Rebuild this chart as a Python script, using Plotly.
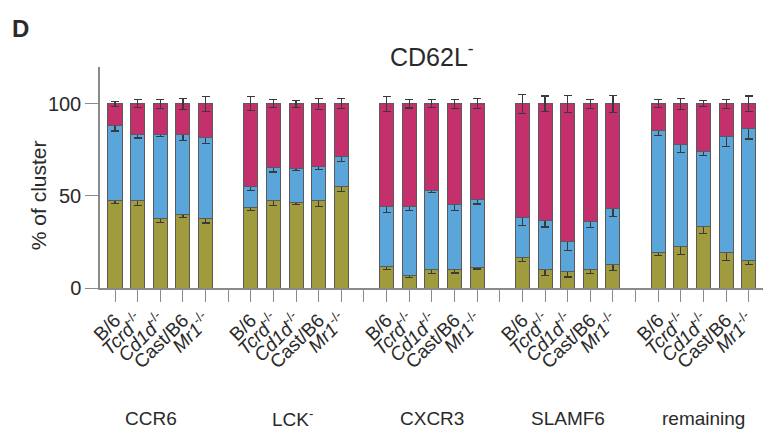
import plotly.graph_objects as go

groups = ["CCR6", "LCK<sup>-</sup>", "CXCR3", "SLAMF6", "remaining"]
strains = ["B/6", "<i>Tcrd</i><sup>-/-</sup>", "<i>Cd1d</i><sup>-/-</sup>", "Cast/B6", "<i>Mr1</i><sup>-/-</sup>"]

# segment percentages (bottom olive, middle blue, top magenta), per group x strain
olive = [47.7, 47.3, 37.9, 40.1, 37.6,
         43.9, 47.7, 46.6, 47.7, 55.3,
         11.9, 6.9, 10.1, 9.8, 11.2,
         16.3, 9.8, 8.7, 9.8, 12.7,
         19.1, 22.4, 33.2, 19.1, 15.2]
blue = [40.6, 36.3, 45.4, 43.5, 44.2,
        11.4, 17.5, 18.3, 18.1, 15.9,
        32.2, 37.2, 42.8, 35.4, 36.9,
        22.0, 26.7, 16.6, 26.3, 30.7,
        66.2, 55.6, 40.9, 62.9, 71.5]
magenta = [11.7, 16.4, 16.7, 16.4, 18.2,
           44.7, 34.8, 35.1, 34.2, 28.8,
           55.9, 55.9, 47.1, 54.8, 51.9,
           61.7, 63.5, 74.7, 63.9, 56.6,
           14.7, 22.0, 25.9, 18.0, 13.3]

olive_err = [2.0, 2.7, 2.5, 1.8, 2.3,
             2.0, 3.1, 1.4, 3.4, 3.1,
             2.0, 1.4, 2.2, 1.6, 0.9,
             2.0, 2.9, 2.7, 2.0, 3.4,
             1.3, 4.2, 3.4, 4.2, 2.3]
blue_err = [3.0, 2.2, 1.0, 3.3, 3.3,
            2.3, 2.2, 0.9, 1.4, 2.7,
            3.1, 2.2, 1.1, 2.9, 2.5,
            4.2, 3.4, 5.0, 3.1, 4.5,
            2.7, 4.5, 2.2, 5.1, 5.8]
magenta_err = [1.3, 2.2, 2.5, 2.9, 4.0,
               3.8, 2.2, 2.0, 3.1, 2.7,
               4.0, 2.3, 2.2, 2.5, 2.7,
               5.2, 4.3, 4.7, 2.5, 4.5,
               2.2, 2.9, 1.6, 2.5, 4.3]

n_s = len(strains)
slot = n_s + 1
xs = [g * slot + i for g in range(len(groups)) for i in range(n_s)]
tickvals = list(range(len(groups) * slot - 1))
ticktext = []
for t in tickvals:
    g, i = divmod(t, slot)
    ticktext.append(strains[i] if i < n_s else "")

OLIVE = "#a09c3e"
BLUE = "#5aa5d9"
MAG = "#c4306b"
EDGE = "#5a5a5a"
TXT = "#2a2a2a"

fig = go.Figure()
for vals, errs, col in [(olive, olive_err, OLIVE), (blue, blue_err, BLUE), (magenta, magenta_err, MAG)]:
    fig.add_trace(go.Bar(
        x=xs, y=vals, width=0.62,
        marker=dict(color=col, line=dict(color=EDGE, width=1)),
        error_y=dict(type="data", array=errs, visible=True, color="#3a3a3a", thickness=1.2, width=4),
        showlegend=False,
    ))

font = "Liberation Sans, Arial, sans-serif"
L, T, PW, PH = 92, 59, 663, 221
fig.update_layout(
    barmode="stack",
    width=778, height=439,
    margin=dict(l=L, r=778 - L - PW, t=T, b=439 - T - PH),
    paper_bgcolor="white", plot_bgcolor="white",
    font=dict(family=font, color=TXT),
    xaxis=dict(range=[-0.663, 28.63], tickvals=tickvals, ticktext=ticktext, tickangle=-45,
               showline=True, linecolor="#8a8a8a", linewidth=1.5, ticks="outside", ticklen=12,
               tickcolor="#8a8a8a", tickwidth=1.2, showgrid=False, zeroline=False,
               tickfont=dict(size=19, color=TXT, family=font)),
    yaxis=dict(range=[0, 120], tickvals=[0, 50, 100], showline=True, linecolor="#8a8a8a",
               linewidth=1.5, ticks="outside", ticklen=13, tickcolor="#8a8a8a", tickwidth=1.2,
               showgrid=False, zeroline=False, tickfont=dict(size=20, color=TXT, family=font)),
)

fig.add_annotation(text="CD62L<sup>-</sup>", x=14, y=1.0, xref="x", yref="paper", yshift=12,
                   yanchor="middle", showarrow=False, font=dict(size=25, color=TXT))
fig.add_annotation(text="<b>D</b>", x=0, y=1 + (67 - 29) / PH, xref="paper", yref="paper",
                   xanchor="left", yanchor="middle", showarrow=False, xshift=-(100 - 10),
                   font=dict(size=24, color=TXT))
fig.add_annotation(text="% of cluster", x=0, y=0.42, xref="paper", yref="paper", xshift=-62,
                   textangle=-90, showarrow=False, xanchor="center", yanchor="middle",
                   font=dict(size=21, color=TXT))
label_shift = [-9, -4, 0, 0, 0]
for g, name in enumerate(groups):
    fig.add_annotation(text=name, x=g * slot + (n_s - 1) / 2, y=0, xref="x", yref="paper",
                       yshift=-130, xshift=label_shift[g], showarrow=False, yanchor="middle",
                       font=dict(size=19, color=TXT))

fig.write_html("out.html")
